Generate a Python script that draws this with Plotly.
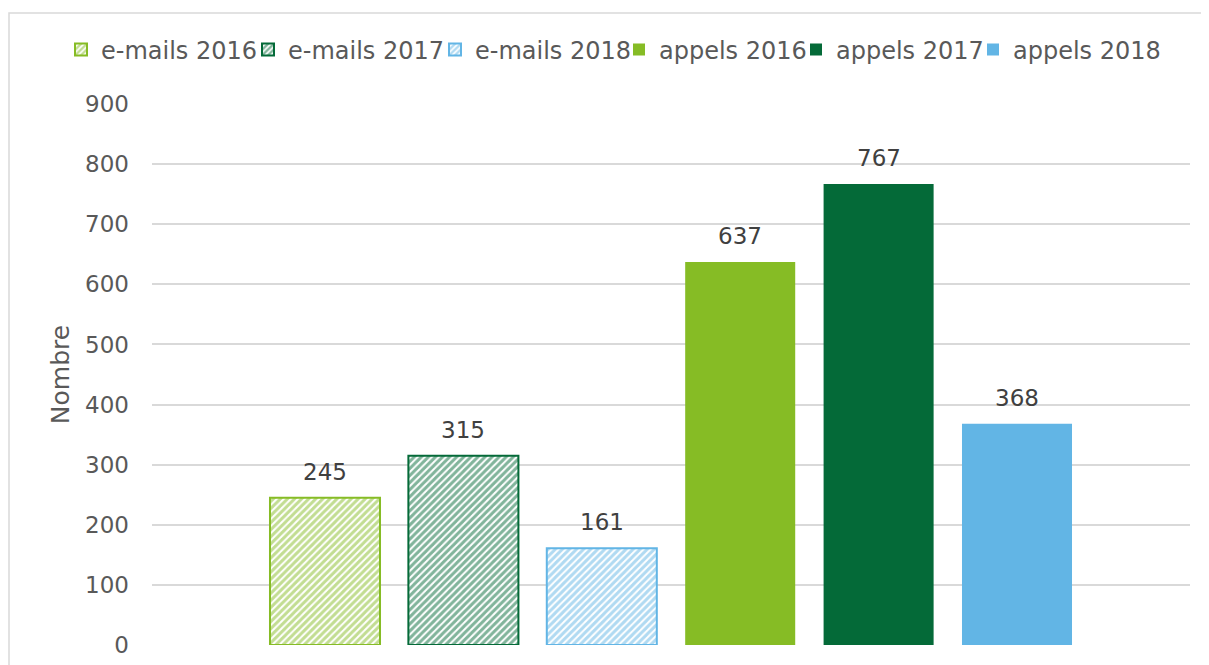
import plotly.graph_objects as go

series = ["e-mails 2016", "e-mails 2017", "e-mails 2018", "appels 2016", "appels 2017", "appels 2018"]
values = [245, 315, 161, 637, 767, 368]
colors = ["#86BC25", "#046A38", "#62B5E5", "#86BC25", "#046A38", "#62B5E5"]
hatched = [True, True, True, False, False, False]
tick_vals = [0, 100, 200, 300, 400, 500, 600, 700, 800, 900]

FONT = "Verdana, DejaVu Sans, sans-serif"
W, H = 1209, 665
OFF = 8  # page body margin
L, T = 152 - OFF, 104 - OFF
pw, ph = 1038, 541
R, B = W - L - pw, H - T - ph
n = len(series)
half = 7.5 / 2  # plot width holds 7.5 bar slots

fig = go.Figure()
for i, (name, v, c, h) in enumerate(zip(series, values, colors, hatched)):
    if h:
        marker = dict(color="white", line=dict(color=c, width=2),
                      pattern=dict(shape="/", fgcolor=c, bgcolor="white", size=5, solidity=0.6))
        lw = 158 if i == 2 else 142
        lg = "legend"
    else:
        marker = dict(color=c, line=dict(width=0))
        lw = 152 if i == n - 1 else 132
        lg = "legend2"
    fig.add_trace(go.Bar(x=[i], y=[v], name=name, marker=marker, width=0.795,
                         legendwidth=lw, legend=lg))
    fig.add_annotation(x=i, y=v, text=str(v), showarrow=False, xanchor="center", yanchor="bottom",
                       yshift=11, font=dict(family=FONT, size=23, color="#404040"))

leg_common = dict(orientation="h", xref="container", yref="container", xanchor="left",
                  y=1 - 42 / H, yanchor="middle", itemwidth=30, traceorder="normal",
                  font=dict(family=FONT, size=24, color="#595959"), bgcolor="rgba(0,0,0,0)")

fig.update_layout(
    width=W, height=H,
    margin=dict(l=L, r=R, t=T, b=B),
    paper_bgcolor="white", plot_bgcolor="white",
    barmode="overlay",
    font=dict(family=FONT, size=23, color="#595959"),
    showlegend=True,
    legend=dict(x=53 / W, **leg_common),
    legend2=dict(x=611 / W, **leg_common),
    xaxis=dict(range=[(n - 1) / 2 - half, (n - 1) / 2 + half], showticklabels=False, showgrid=False,
               zeroline=False, showline=False, ticks=""),
    yaxis=dict(range=[0, 900], tickvals=tick_vals, showgrid=True, gridcolor="#d9d9d9", gridwidth=1.5,
               zeroline=False, showline=False, ticks="", ticklabelstandoff=22,
               tickfont=dict(family=FONT, size=23, color="#595959"),
               title=dict(text="Nombre", font=dict(family=FONT, size=25, color="#595959"), standoff=8)),
    shapes=[dict(type="rect", xref="paper", yref="paper",
                 x0=(9 - OFF - L) / pw, x1=(W + 20 - L) / pw,
                 y0=-0.2, y1=(645 - 13) / ph,
                 line=dict(color="#d9d9d9", width=1.5), fillcolor="rgba(0,0,0,0)", layer="below")],
)

fig.write_html("out.html")
